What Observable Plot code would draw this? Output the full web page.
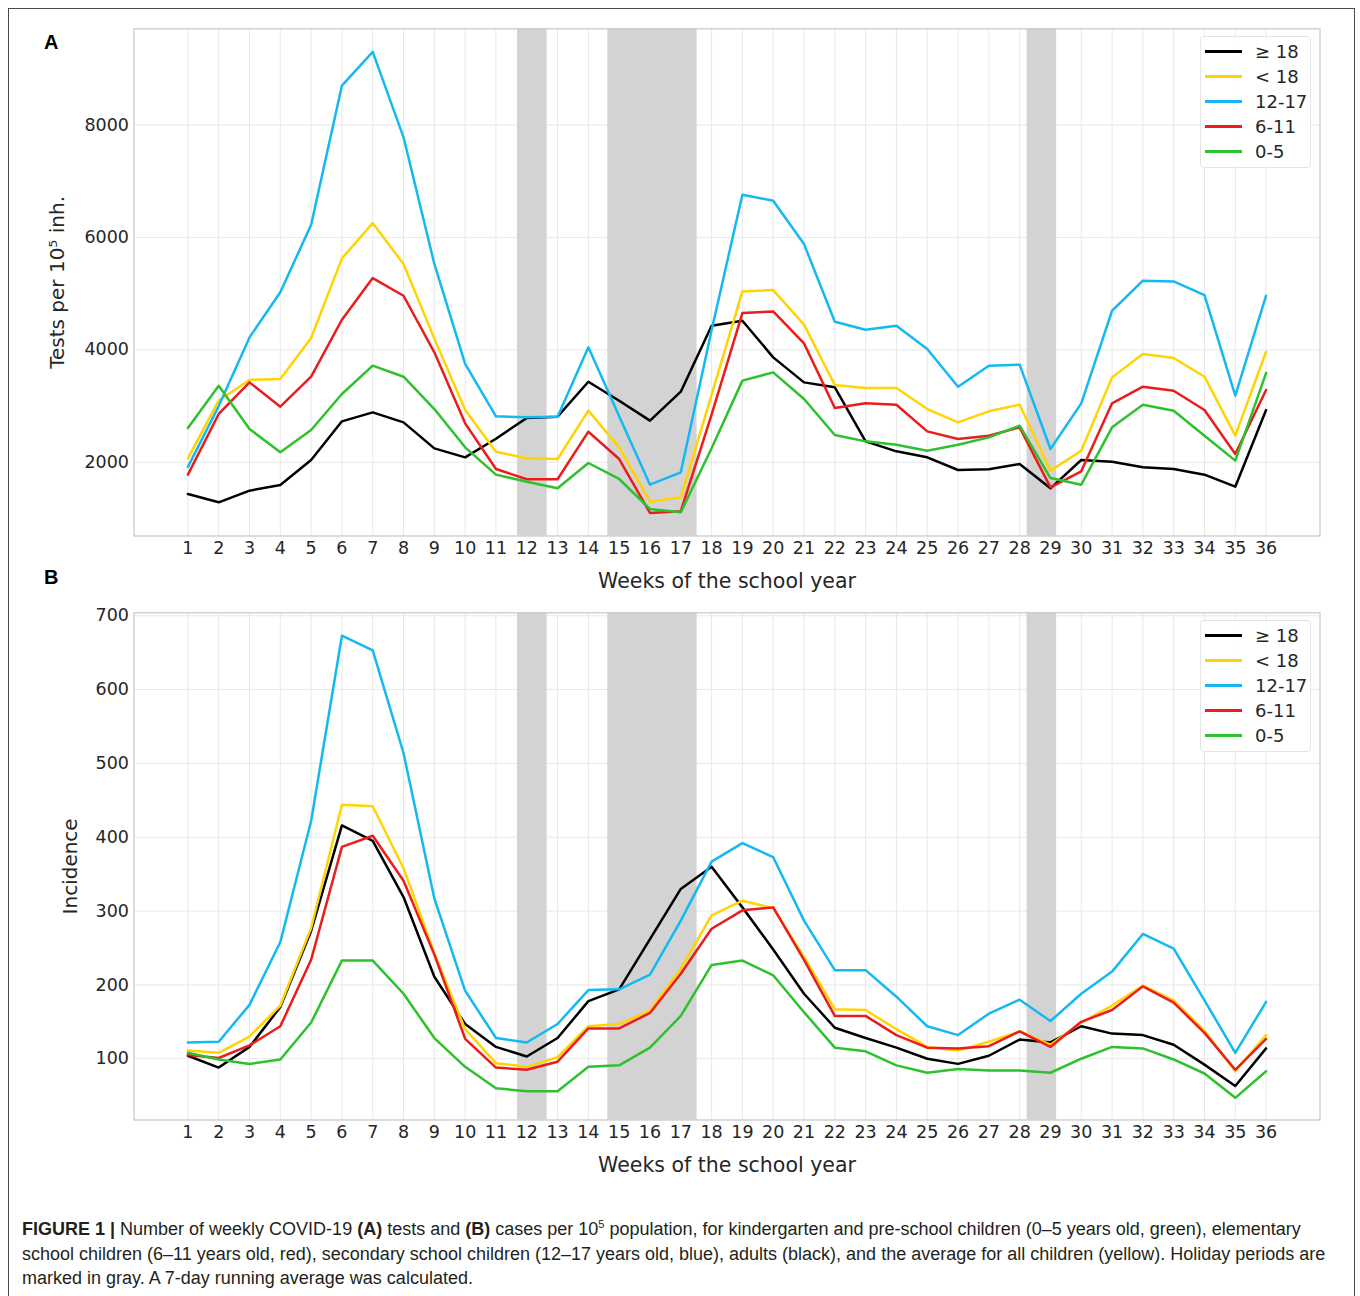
<!DOCTYPE html>
<html>
<head>
<meta charset="utf-8">
<script src="https://cdn.jsdelivr.net/npm/d3@7"></script>
<script src="https://cdn.jsdelivr.net/npm/@observablehq/plot@0.6"></script>
<style>
  body { margin: 0; background: #fff; overflow: hidden; }
  #fig { position: relative; width: 1360px; height: 1296px; overflow: hidden; background: #fff; }
  #border { position: absolute; left: 8px; top: 8px; width: 1347px; height: 1400px; border: 1.5px solid #4a4a4a; box-sizing: border-box; }
  .panel { position: absolute; left: 0; }
  .plabel { position: absolute; left: 44px; font: bold 20px "Liberation Sans", Arial, sans-serif; line-height: 20px; color: #000; }
  .legend { position: absolute; left: 1200px; width: 111px; height: 132px; border: 1px solid #e4e4e4; border-radius: 4px;
            background: rgba(255,255,255,0.85); box-sizing: border-box; font-family: "DejaVu Sans"; font-size: 18px; color: #262626; }
  .legend .row { position: absolute; left: 0; width: 108px; height: 24px; }
  .legend .sw { position: absolute; left: 4px; top: 10px; width: 37px; height: 3px; }
  .legend .tx { position: absolute; left: 54px; top: 0; line-height: 24px; white-space: nowrap; }
  #caption { position: absolute; left: 22px; top: 1217px; font-family: "Liberation Sans", Arial, sans-serif; font-size: 18px;
             line-height: 24.5px; color: #231f20; white-space: nowrap; }
  #caption sup { font-size: 11px; line-height: 0; vertical-align: 7px; }
</style>
</head>
<body>
<div id="fig">
  <div id="border"></div>
  <div id="panelA" class="panel" style="top:0px"></div>
  <div id="panelB" class="panel" style="top:583.7px"></div>
  <div class="plabel" style="top:32px">A</div>
  <div class="plabel" style="top:567px">B</div>
  <div id="legendA" class="legend" style="top:36px"></div>
  <div id="legendB" class="legend" style="top:620px"></div>
  <div id="caption">
    <b>FIGURE 1 |</b> Number of weekly COVID-19 <b>(A)</b> tests and <b>(B)</b> cases per 10<sup>5</sup> population, for kindergarten and pre-school children (0–5 years old, green), elementary<br>
    school children (6–11 years old, red), secondary school children (12–17 years old, blue), adults (black), and the average for all children (yellow). Holiday periods are<br>
    marked in gray. A 7-day running average was calculated.
  </div>
</div>
<script>
// ---------- data ----------
const weeks = [1,2,3,4,5,6,7,8,9,10,11,12,13,14,15,16,17,18,19,20,21,22,23,24,25,26,27,28,29,30,31,32,33,34,35,36];

const groups = ["≥ 18", "< 18", "12-17", "6-11", "0-5"];
const groupColors = ["#000000", "#ffd400", "#14b9f2", "#ec1c1c", "#2ec12e"];

// Panel A: tests per 10^5 inhabitants
const testsAdults  = [1437,1289,1496,1597,2041,2729,2889,2711,2249,2089,2420,2790,2812,3434,3096,2741,3257,4430,4519,3867,3422,3334,2373,2196,2089,1864,1876,1970,1538,2041,2012,1911,1881,1781,1567,2930];
const testsUnder18 = [2071,3100,3465,3480,4211,5627,6255,5526,4200,2931,2190,2071,2060,2919,2267,1301,1378,3200,5040,5064,4448,3375,3322,3322,2948,2711,2907,3025,1852,2207,3511,3926,3855,3523,2474,3967];
const tests12_17   = [1920,3000,4222,5024,6226,8700,9300,7780,5528,3749,2818,2800,2812,4045,2820,1603,1822,4350,6758,6652,5882,4501,4358,4430,4015,3345,3719,3737,2237,3049,4696,5230,5218,4975,3185,4963];
const tests6_11    = [1781,2860,3422,2990,3523,4536,5277,4963,3956,2693,1881,1700,1700,2545,2059,1100,1129,2850,4655,4684,4116,2966,3049,3025,2551,2415,2474,2622,1556,1840,3049,3345,3274,2930,2148,3286];
const tests0_5     = [2610,3363,2593,2178,2575,3215,3719,3523,2948,2267,1781,1656,1540,1988,1704,1170,1111,2250,3453,3600,3127,2486,2373,2314,2207,2314,2444,2652,1721,1603,2622,3025,2919,2474,2030,3588];

// Panel B: incidence
const incAdults  = [104,88,116,170,273,416,395,319,211,147,116,103,128,178,194,262,330,360,305,248,188,142,128,115,100,93,104,126,122,144,134,132,119,92,63,114];
const incUnder18 = [111,108,130,172,277,444,442,358,243,140,94,89,102,144,147,165,222,294,314,304,238,167,166,140,116,111,123,137,119,149,172,199,179,138,83,132];
const inc12_17   = [122,123,173,258,422,673,653,514,317,192,128,122,147,193,194,214,287,367,392,373,287,220,220,184,144,132,161,180,151,188,218,269,249,179,108,177];
const inc6_11    = [105,101,118,144,234,387,402,341,241,127,88,85,96,141,141,162,215,276,301,305,234,158,158,132,115,114,117,137,116,150,166,198,176,135,85,127];
const inc0_5     = [108,99,93,99,149,233,233,188,128,89,60,56,56,89,91,115,158,227,233,213,163,115,110,91,81,86,84,84,81,100,116,114,99,80,47,83];

// holiday periods (in week units)
const holidayStart = [11.7, 14.63, 28.24];
const holidayEnd   = [12.66, 17.53, 29.2];

const yTicksA = [2000, 4000, 6000, 8000];
const yTicksB = [100, 200, 300, 400, 500, 600, 700];

const xLabel = "Weeks of the school year";
const yLabelA = "Tests per 10\u2075 inh.";
const yLabelB = "Incidence";

// ---------- build tables ----------
function tidy(seriesList) {
  const rows = [];
  seriesList.forEach((vals, gi) => vals.forEach((v, i) => rows.push({week: weeks[i], group: groups[gi], value: v})));
  return rows;
}
const tableA = tidy([testsAdults, testsUnder18, tests12_17, tests6_11, tests0_5]);
const tableB = tidy([incAdults, incUnder18, inc12_17, inc6_11, inc0_5]);
const holidays = holidayStart.map((s, i) => ({start: s, end: holidayEnd[i]}));

function panel(table, yDomain, yTicks, yLabel, yLabelDx) {
  const marks = [
    Plot.gridX(weeks, {stroke: "#e8e8e8", strokeOpacity: 1, strokeWidth: 1}),
    Plot.gridY(yTicks, {stroke: "#e8e8e8", strokeOpacity: 1, strokeWidth: 1}),
    Plot.rect(holidays, {x1: "start", x2: "end", fill: "#d3d3d3"}),
    ...groups.map((g, gi) => Plot.line(table, {
      filter: d => d.group === g, x: "week", y: "value",
      stroke: groupColors[gi], strokeWidth: 2.5, strokeLinejoin: "round"
    })),
    Plot.frame({stroke: "#cbcbcb", strokeWidth: 1.3}),
    Plot.axisX(weeks, {tickSize: 0, tickPadding: 5.5, tickFormat: d => String(d), label: null}),
    Plot.axisY(yTicks, {tickSize: 0, tickPadding: 5, tickFormat: d => String(d), label: null}),
    Plot.text([xLabel], {text: d => d, frameAnchor: "bottom", textAnchor: "middle", dy: 52, fontSize: 20.5, fill: "#262626"}),
    Plot.text([yLabel], {text: d => d, frameAnchor: "left", textAnchor: "middle", dx: -yLabelDx, rotate: -90, fontSize: 20, fill: "#262626"})
  ];
  return Plot.plot({
    width: 1360, height: 600,
    marginTop: 28.3, marginBottom: 64.5, marginLeft: 133.5, marginRight: 40.5,
    x: {type: "linear", domain: [-0.75, 37.75]},
    y: {type: "linear", domain: yDomain},
    style: {fontFamily: "DejaVu Sans", fontSize: "17.5px", color: "#262626", background: "transparent"},
    marks
  });
}

document.getElementById("panelA").appendChild(panel(tableA, [690, 9710], yTicksA, yLabelA, 76.5));
document.getElementById("panelB").appendChild(panel(tableB, [17, 704], yTicksB, yLabelB, 63.5));

// ---------- legends ----------
function legend(el) {
  groups.forEach((g, i) => {
    const row = document.createElement("div");
    row.className = "row";
    row.style.top = Math.round(2.5 + i * 25.2) + "px";
    const sw = document.createElement("div");
    sw.className = "sw";
    sw.style.background = groupColors[i];
    const tx = document.createElement("div");
    tx.className = "tx";
    tx.textContent = g;
    row.appendChild(sw); row.appendChild(tx);
    el.appendChild(row);
  });
}
legend(document.getElementById("legendA"));
legend(document.getElementById("legendB"));
</script>
</body>
</html>
